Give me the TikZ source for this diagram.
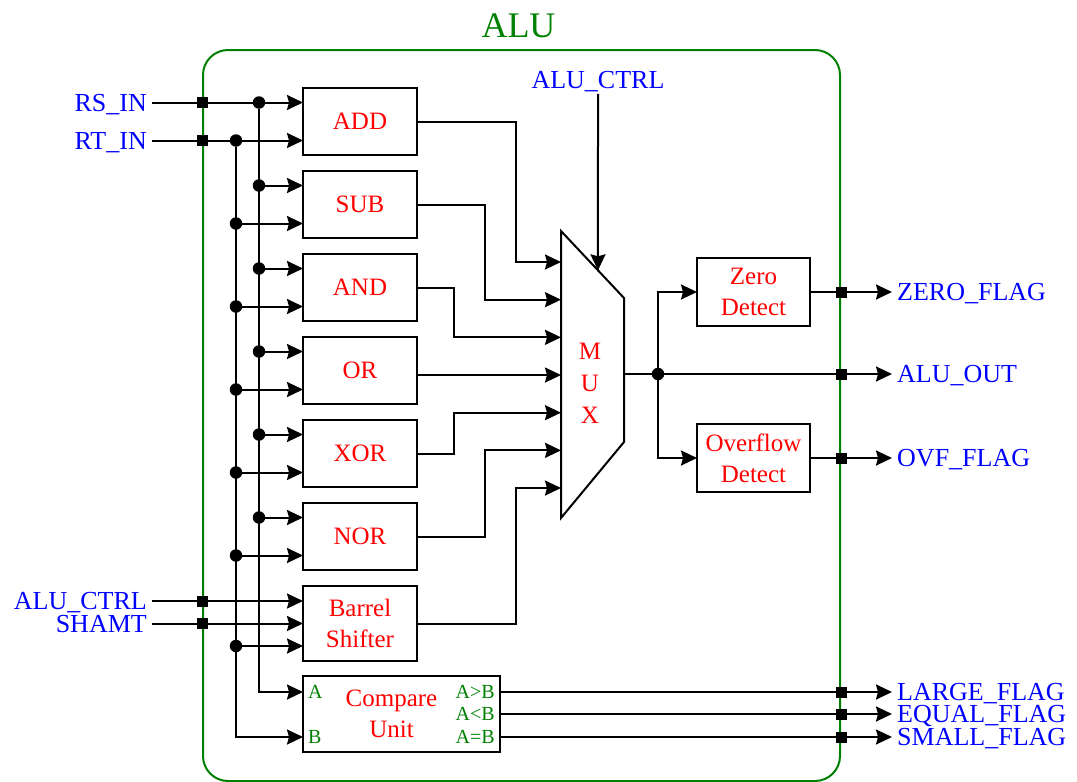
\documentclass[tikz,border=0pt]{standalone}
\usepackage{fontspec}
\setmainfont{Liberation Serif}
\usepackage{xcolor}
\usetikzlibrary{positioning,arrows.meta,calc}
\definecolor{alugreen}{RGB}{0,128,0}

\begin{document}
\begin{tikzpicture}[x=1pt,y=-1pt,
        node distance=16pt,
        blk/.style={rectangle,draw,line width=2pt,outer sep=0pt,align=center,text=red,font=\fontsize{25}{31}\selectfont,minimum width=114pt,minimum height=67pt,inner sep=2pt},
        sig/.style={text=blue,font=\fontsize{26}{26}\selectfont,text depth=0pt,inner sep=5pt},
        port/.style={text=alugreen,font=\fontsize{20}{20}\selectfont,text depth=0pt,inner sep=5pt},
        dot/.style={circle,fill,inner sep=0pt,minimum size=12.5pt},
        sq/.style={rectangle,fill,inner sep=0pt,minimum size=11pt},
        wire/.style={line width=2pt},
        arrow/.style={wire,-{Stealth[length=16pt,width=15pt,inset=2pt]}}]
        \useasboundingbox (0,0) rectangle (1077,782);
        % frame
        \node[draw=alugreen,line width=2pt,rounded corners=25pt,minimum width=637pt,minimum height=731pt] (alu) at (521.5,415.5) {};
        \node[text=alugreen,font=\fontsize{36}{36}\selectfont,above=8pt of alu.north,xshift=-3pt] (title) {ALU};
        % function blocks
        \node[blk] (add) at (360,121.5) {ADD};
        \node[blk,below=of add] (sub) {SUB};
        \node[blk,below=of sub] (and) {AND};
        \node[blk,below=of and] (or) {OR};
        \node[blk,below=of or] (xor) {XOR};
        \node[blk,below=of xor] (nor) {NOR};
        \node[blk,minimum height=75pt,below=of nor] (barrel) {Barrel\\Shifter};
        \node[blk,minimum width=197pt,minimum height=76pt,below=15pt of barrel.south west,anchor=north west] (cmp) {Compare\hspace*{20pt}\\Unit\hspace*{20pt}};
        \node[blk,minimum width=113pt,minimum height=68pt] (zero) at (753.5,292) {Zero\\Detect};
        \node[blk,minimum width=113pt,minimum height=68pt] (ovf) at (753.5,458) {Overflow\\Detect};
        % mux
        \coordinate (mtl) at (561,231);
        \coordinate (mtr) at (624,298);
        \coordinate (mbr) at (624,442);
        \coordinate (mbl) at (561,518);
        \coordinate (mo) at (624,374);
        \draw[wire] (mtl) -- (mtr) -- (mbr) -- (mbl) -- cycle;
        \node[text=red,font=\fontsize{25}{32}\selectfont,align=center] (mux) at (590,383) {M\\U\\X};
        \foreach \i in {1,...,7}
            \coordinate (mi\i) at (561,{262+37.67*(\i-1)});
        \coordinate (mtop) at ($(mtl)!0.587!(mtr)$);
        % ports
        \coordinate (lx) at (152,0);
        \coordinate (rx) at (892,0);
        \coordinate (rsbus) at (259,0);
        \coordinate (rtbus) at (236,0);
        \coordinate (bar1) at ([yshift=22.5pt]barrel.west);
        \coordinate (bar3) at ([yshift=-22.5pt]barrel.west);
        \coordinate (cmpa) at ([yshift=22pt]cmp.west);
        \coordinate (cmpb) at ([yshift=-23pt]cmp.west);
        \coordinate (cmpgt) at ([yshift=22pt]cmp.east);
        \coordinate (cmpeq) at ([yshift=-23pt]cmp.east);
        \node[port,anchor=west] (pa) at (cmpa) {A};
        \node[port,anchor=west] (pb) at (cmpb) {B};
        \node[port,anchor=east] (pgt) at (cmpgt) {A>B};
        \node[port,anchor=east] (plt) at (cmp.east) {A<B};
        \node[port,anchor=east] (peq) at (cmpeq) {A=B};
        % signal names
        \node[sig,anchor=east] (rsin) at ([yshift=19pt]add.west -| lx) {RS\_IN};
        \node[sig,anchor=east] (rtin) at ([yshift=-19pt]add.west -| lx) {RT\_IN};
        \node[sig,anchor=east] (ctrll) at (bar1 -| lx) {ALU\_CTRL};
        \node[sig,anchor=east] (shamt) at (barrel.west -| lx) {SHAMT};
        \node[sig] (ctrlt) at (598,80) {ALU\_CTRL};
        \node[sig,anchor=west] (zflag) at (zero.east -| rx) {ZERO\_FLAG};
        \node[sig,anchor=west] (aluout) at (mo -| rx) {ALU\_OUT};
        \node[sig,anchor=west] (oflag) at (ovf.east -| rx) {OVF\_FLAG};
        \node[sig,anchor=west] (large) at (cmpgt -| rx) {LARGE\_FLAG};
        \node[sig,anchor=west] (equal) at (cmp.east -| rx) {EQUAL\_FLAG};
        \node[sig,anchor=west] (small) at (cmpeq -| rx) {SMALL\_FLAG};
        % operand buses
        \foreach \b in {add,sub,and,or,xor,nor} {
            \coordinate (\b1) at ([yshift=19pt]\b.west);
            \coordinate (\b2) at ([yshift=-19pt]\b.west);
            \node[dot] (rs\b) at (rsbus |- \b1) {};
            \node[dot] (rt\b) at (rtbus |- \b2) {};
            \draw[arrow] (rs\b) -- (\b1);
            \draw[arrow] (rt\b) -- (\b2);
        }
        \node[dot] (rtbar) at (rtbus |- bar3) {};
        \draw[wire] (rsin.east) -- (rsadd);
        \draw[wire] (rtin.east) -- (rtadd);
        \draw[arrow] (rsadd) |- (cmpa);
        \draw[arrow] (rtadd) |- (cmpb);
        \draw[arrow] (ctrll.east) -- (bar1);
        \draw[arrow] (shamt.east) -- (barrel.west);
        \draw[arrow] (rtbar) -- (bar3);
        % into the mux
        \draw[arrow] (add.east) -- ++(99,0) |- (mi1);
        \draw[arrow] (sub.east) -- ++(68,0) |- (mi2);
        \draw[arrow] (and.east) -- ++(37,0) |- (mi3);
        \draw[arrow] (or.east |- mi4) -- (mi4);
        \draw[arrow] (xor.east) -- ++(37,0) |- (mi5);
        \draw[arrow] (nor.east) -- ++(68,0) |- (mi6);
        \draw[arrow] (barrel.east) -- ++(99,0) |- (mi7);
        \draw[arrow] (ctrlt.south) -- (mtop);
        % outputs
        \node[dot] (split) at (658,374) {};
        \draw[wire] (mo) -- (split);
        \draw[arrow] (split) -- (aluout.west);
        \draw[arrow] (split) |- (zero.west);
        \draw[arrow] (split) |- (ovf.west);
        \draw[arrow] (zero.east) -- (zflag.west);
        \draw[arrow] (ovf.east) -- (oflag.west);
        \draw[arrow] (cmpgt) -- (large.west);
        \draw[arrow] (cmp.east) -- (equal.west);
        \draw[arrow] (cmpeq) -- (small.west);
        % pins on the frame
        \foreach \n in {rsin,rtin,ctrll,shamt}
            \node[sq] (sq\n) at (\n.east -| alu.west) {};
        \foreach \n in {zflag,aluout,oflag,large,equal,small}
            \node[sq] (sq\n) at (\n.west -| alu.east) {};
    \end{tikzpicture}
\end{document}
